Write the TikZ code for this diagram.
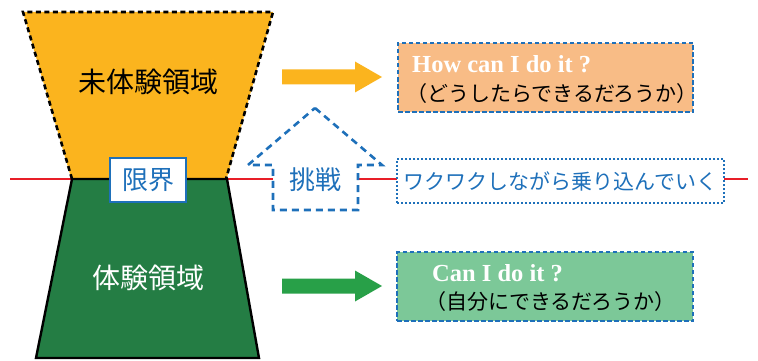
\documentclass[tikz,border=0pt]{standalone}
\usepackage{fontspec}
\setmainfont{Liberation Serif}
\newfontfamily\jp{Noto Sans CJK JP}
\usepackage{tikz}
\usetikzlibrary{positioning}
\definecolor{untried}{RGB}{251,180,30}
\definecolor{tried}{RGB}{36,125,68}
\definecolor{howfill}{RGB}{248,188,134}
\definecolor{canfill}{RGB}{124,200,152}
\definecolor{arrowgreen}{RGB}{40,160,72}
\definecolor{edgeblue}{RGB}{30,112,186}
\definecolor{limitred}{RGB}{232,30,40}
\newcommand{\jpsize}[1]{\jp\fontsize{#1}{#1}\selectfont}
\newcommand{\blockarrow}[2]{\fill[#1] (#2)++(0,-7.5)--++(73,0)--++(0,-8)--++(27,15.5)--++(-27,15.5)--++(0,-8)--++(-73,0)--cycle;}
\tikzset{
  bluedash/.style={draw=edgeblue, line width=2.6pt, dash pattern=on 4.5pt off 2.5pt},
  bluedot/.style={draw=edgeblue, line width=2.6pt, dash pattern=on 2pt off 2pt},
  qtext/.style={anchor=base west, inner sep=0, text=white, font=\bfseries\fontsize{24.5}{24.5}\selectfont},
  jptext/.style={anchor=west, inner sep=0, font=\jpsize{21}}
}

\begin{document}
\begin{tikzpicture}[x=1pt,y=-1pt]
\useasboundingbox (0,0) rectangle (758,361);
\coordinate (redL) at (10,179);
\coordinate (redR) at (748,179);
\draw[limitred, line width=1.8pt] (redL)--(redR);
% zones
\fill[untried] (72,181)--(23,12)--(273,12)--(226,181)--cycle;
\draw[line width=2.6pt, dash pattern=on 5pt off 3.5pt] (72,179)--(23,12)--(273,12)--(226,179);
\filldraw[fill=tried, line width=2.4pt] (72,179)--(227,179)--(259,358)--(36,358)--cycle;
\node[font=\jpsize{28}] (untriedlbl) at (148,82) {未体験領域};
\node[font=\jpsize{28}, text=white] (triedlbl) at (148,278) {体験領域};
\node[draw=edgeblue, line width=2.6pt, fill=white, minimum width=76pt, minimum height=44pt,
  inner sep=0, text=edgeblue, font=\jpsize{26}] (limit) at (148,180) {限界};
% challenge
\filldraw[fill=white, draw=edgeblue, line width=2.6pt, dash pattern=on 7pt off 5pt]
  (315,108)--(382,165)--(358,165)--(358,210)--(273,210)--(273,165)--(248,165)--cycle;
\node[text=edgeblue, font=\jpsize{26}] (challenge) at (315,180) {挑戦};
% arrows
\coordinate (howtail) at (282,77);
\coordinate (cantail) at (282,286);
\blockarrow{untried}{howtail}
\blockarrow{arrowgreen}{cantail}
% boxes
\node[bluedash, fill=howfill, minimum width=295pt, minimum height=69pt] (howbox) at (545.5,77.5) {};
\node[qtext] (howq) at (412,73) {How can I do it ?};
\node[jptext] (howjp) at (406,94) {（どうしたらできるだろうか）};
\node[bluedot, fill=white, minimum width=327pt, minimum height=44pt,
  text=edgeblue, font=\jpsize{21}] (ride) at (560.5,181) {ワクワクしながら乗り込んでいく};
\node[bluedash, fill=canfill, minimum width=296pt, minimum height=69pt] (canbox) at (545,286.5) {};
\node[qtext] (canq) at (432,281) {Can I do it ?};
\node[jptext] (canjp) at (425,302) {（自分にできるだろうか）};
\end{tikzpicture}
\end{document}
